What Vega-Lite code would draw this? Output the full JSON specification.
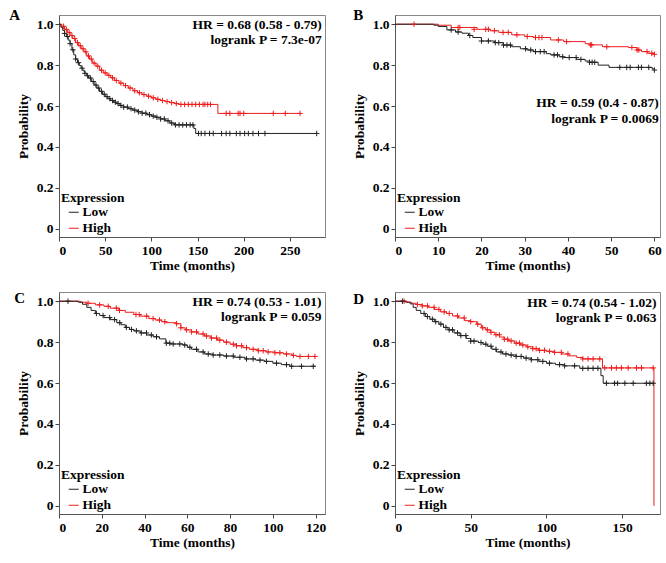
{
"$schema": "https://vega.github.io/schema/vega-lite/v6.json",
"padding": {"left": 8, "top": 7, "right": 4, "bottom": 4},
"columns": 2,
"spacing": {"row": 17, "column": 24},
"resolve": {"scale": {"color": "independent"}, "legend": {"color": "independent"}},
"config": {
  "font": "Liberation Serif",
  "view": {"stroke": "#888", "strokeWidth": 1},
  "axis": {"labelFont": "Liberation Serif", "labelFontSize": 13.5, "labelFontWeight": "bold", "labelColor": "#000", "titleFont": "Liberation Serif", "titleFontSize": 13.5, "titleFontWeight": "bold", "titleColor": "#000", "grid": false, "domain": true, "domainColor": "#555", "tickColor": "#444", "tickSize": 4, "labelPadding": 2},
  "axisX": {"titlePadding": 2},
  "axisY": {"titlePadding": 6},
  "legend": {"orient": "bottom-left", "offset": 2, "titleFont": "Liberation Serif", "titleFontSize": 13.5, "titleFontWeight": "bold", "titleColor": "#000", "labelFont": "Liberation Serif", "labelFontSize": 13.5, "labelFontWeight": "bold", "labelColor": "#000", "symbolType": "stroke", "symbolStrokeWidth": 1, "symbolSize": 100, "labelOffset": 2, "titlePadding": 1, "rowPadding": 1, "symbolOffset": 6},
  "title": {"font": "Liberation Serif", "fontSize": 15, "fontWeight": "bold", "color": "#000", "anchor": "start", "frame": "bounds", "baseline": "alphabetic"}
},
"datasets": {
"A_curve": [
{"t":0,"p":1,"g":"High"},{"t":3,"p":0.99,"g":"High"},{"t":6,"p":0.975,"g":"High"},{"t":9,"p":0.96,"g":"High"},{"t":12,"p":0.945,"g":"High"},{"t":15,"p":0.93,"g":"High"},{"t":18,"p":0.91,"g":"High"},{"t":21,"p":0.895,"g":"High"},{"t":24,"p":0.88,"g":"High"},{"t":27,"p":0.865,"g":"High"},{"t":30,"p":0.845,"g":"High"},{"t":33,"p":0.83,"g":"High"},{"t":36,"p":0.81,"g":"High"},{"t":40,"p":0.795,"g":"High"},{"t":44,"p":0.775,"g":"High"},{"t":48,"p":0.762,"g":"High"},{"t":52,"p":0.75,"g":"High"},{"t":56,"p":0.738,"g":"High"},{"t":60,"p":0.725,"g":"High"},{"t":65,"p":0.712,"g":"High"},{"t":70,"p":0.70,"g":"High"},{"t":75,"p":0.688,"g":"High"},{"t":80,"p":0.675,"g":"High"},{"t":85,"p":0.665,"g":"High"},{"t":90,"p":0.656,"g":"High"},{"t":95,"p":0.648,"g":"High"},{"t":100,"p":0.64,"g":"High"},{"t":105,"p":0.633,"g":"High"},{"t":110,"p":0.627,"g":"High"},{"t":115,"p":0.622,"g":"High"},{"t":120,"p":0.617,"g":"High"},{"t":125,"p":0.612,"g":"High"},{"t":130,"p":0.608,"g":"High"},{"t":172,"p":0.564,"g":"High"},{"t":261,"p":0.564,"g":"High"},
{"t":0,"p":1,"g":"Low"},{"t":2,"p":0.985,"g":"Low"},{"t":4,"p":0.97,"g":"Low"},{"t":6,"p":0.955,"g":"Low"},{"t":8,"p":0.94,"g":"Low"},{"t":10,"p":0.922,"g":"Low"},{"t":12,"p":0.905,"g":"Low"},{"t":14,"p":0.875,"g":"Low"},{"t":16,"p":0.85,"g":"Low"},{"t":18,"p":0.83,"g":"Low"},{"t":20,"p":0.812,"g":"Low"},{"t":22,"p":0.798,"g":"Low"},{"t":24,"p":0.785,"g":"Low"},{"t":26,"p":0.772,"g":"Low"},{"t":28,"p":0.76,"g":"Low"},{"t":30,"p":0.748,"g":"Low"},{"t":32,"p":0.737,"g":"Low"},{"t":35,"p":0.72,"g":"Low"},{"t":38,"p":0.703,"g":"Low"},{"t":41,"p":0.688,"g":"Low"},{"t":44,"p":0.672,"g":"Low"},{"t":47,"p":0.658,"g":"Low"},{"t":50,"p":0.646,"g":"Low"},{"t":53,"p":0.636,"g":"Low"},{"t":56,"p":0.627,"g":"Low"},{"t":59,"p":0.619,"g":"Low"},{"t":62,"p":0.612,"g":"Low"},{"t":66,"p":0.603,"g":"Low"},{"t":70,"p":0.595,"g":"Low"},{"t":75,"p":0.587,"g":"Low"},{"t":80,"p":0.58,"g":"Low"},{"t":85,"p":0.572,"g":"Low"},{"t":90,"p":0.565,"g":"Low"},{"t":95,"p":0.558,"g":"Low"},{"t":100,"p":0.551,"g":"Low"},{"t":105,"p":0.545,"g":"Low"},{"t":110,"p":0.537,"g":"Low"},{"t":115,"p":0.528,"g":"Low"},{"t":120,"p":0.517,"g":"Low"},{"t":125,"p":0.508,"g":"Low"},{"t":146,"p":0.49,"g":"Low"},{"t":148,"p":0.466,"g":"Low"},{"t":279,"p":0.466,"g":"Low"}
],
"A_cens": [
{"t":5,"p":0.99,"g":"High"},{"t":8,"p":0.975,"g":"High"},{"t":11,"p":0.96,"g":"High"},{"t":14,"p":0.945,"g":"High"},{"t":17,"p":0.93,"g":"High"},{"t":20,"p":0.91,"g":"High"},{"t":23,"p":0.895,"g":"High"},{"t":26,"p":0.88,"g":"High"},{"t":29,"p":0.865,"g":"High"},{"t":32,"p":0.845,"g":"High"},{"t":35,"p":0.83,"g":"High"},{"t":38,"p":0.81,"g":"High"},{"t":42,"p":0.795,"g":"High"},{"t":46,"p":0.775,"g":"High"},{"t":50,"p":0.762,"g":"High"},{"t":54,"p":0.75,"g":"High"},{"t":58,"p":0.738,"g":"High"},{"t":62,"p":0.725,"g":"High"},{"t":67,"p":0.712,"g":"High"},{"t":72,"p":0.70,"g":"High"},{"t":77,"p":0.688,"g":"High"},{"t":82,"p":0.675,"g":"High"},{"t":87,"p":0.665,"g":"High"},{"t":92,"p":0.656,"g":"High"},{"t":97,"p":0.648,"g":"High"},{"t":102,"p":0.64,"g":"High"},{"t":107,"p":0.633,"g":"High"},{"t":112,"p":0.627,"g":"High"},{"t":117,"p":0.622,"g":"High"},{"t":122,"p":0.617,"g":"High"},{"t":127,"p":0.612,"g":"High"},{"t":132,"p":0.608,"g":"High"},{"t":136,"p":0.608,"g":"High"},{"t":140,"p":0.608,"g":"High"},{"t":144,"p":0.608,"g":"High"},{"t":148,"p":0.608,"g":"High"},{"t":152,"p":0.608,"g":"High"},{"t":156,"p":0.608,"g":"High"},{"t":158,"p":0.608,"g":"High"},{"t":161,"p":0.608,"g":"High"},{"t":164,"p":0.608,"g":"High"},{"t":181,"p":0.564,"g":"High"},{"t":185,"p":0.564,"g":"High"},{"t":194,"p":0.564,"g":"High"},{"t":196,"p":0.564,"g":"High"},{"t":200,"p":0.564,"g":"High"},{"t":232,"p":0.564,"g":"High"},{"t":245,"p":0.564,"g":"High"},{"t":261,"p":0.564,"g":"High"},
{"t":6,"p":0.955,"g":"Low"},{"t":9,"p":0.94,"g":"Low"},{"t":12,"p":0.905,"g":"Low"},{"t":15,"p":0.875,"g":"Low"},{"t":18,"p":0.83,"g":"Low"},{"t":21,"p":0.812,"g":"Low"},{"t":25,"p":0.785,"g":"Low"},{"t":28,"p":0.76,"g":"Low"},{"t":31,"p":0.748,"g":"Low"},{"t":34,"p":0.737,"g":"Low"},{"t":37,"p":0.72,"g":"Low"},{"t":40,"p":0.703,"g":"Low"},{"t":43,"p":0.688,"g":"Low"},{"t":46,"p":0.672,"g":"Low"},{"t":49,"p":0.658,"g":"Low"},{"t":52,"p":0.646,"g":"Low"},{"t":55,"p":0.636,"g":"Low"},{"t":58,"p":0.627,"g":"Low"},{"t":61,"p":0.619,"g":"Low"},{"t":64,"p":0.612,"g":"Low"},{"t":67,"p":0.603,"g":"Low"},{"t":70,"p":0.595,"g":"Low"},{"t":74,"p":0.595,"g":"Low"},{"t":78,"p":0.587,"g":"Low"},{"t":82,"p":0.58,"g":"Low"},{"t":86,"p":0.572,"g":"Low"},{"t":90,"p":0.565,"g":"Low"},{"t":94,"p":0.565,"g":"Low"},{"t":98,"p":0.558,"g":"Low"},{"t":102,"p":0.551,"g":"Low"},{"t":106,"p":0.545,"g":"Low"},{"t":110,"p":0.537,"g":"Low"},{"t":114,"p":0.537,"g":"Low"},{"t":118,"p":0.528,"g":"Low"},{"t":122,"p":0.517,"g":"Low"},{"t":126,"p":0.508,"g":"Low"},{"t":130,"p":0.508,"g":"Low"},{"t":134,"p":0.508,"g":"Low"},{"t":138,"p":0.508,"g":"Low"},{"t":142,"p":0.508,"g":"Low"},{"t":145,"p":0.508,"g":"Low"},{"t":151,"p":0.466,"g":"Low"},{"t":154,"p":0.466,"g":"Low"},{"t":158,"p":0.466,"g":"Low"},{"t":163,"p":0.466,"g":"Low"},{"t":167,"p":0.466,"g":"Low"},{"t":176,"p":0.466,"g":"Low"},{"t":181,"p":0.466,"g":"Low"},{"t":185,"p":0.466,"g":"Low"},{"t":192,"p":0.466,"g":"Low"},{"t":196,"p":0.466,"g":"Low"},{"t":201,"p":0.466,"g":"Low"},{"t":205,"p":0.466,"g":"Low"},{"t":210,"p":0.466,"g":"Low"},{"t":216,"p":0.466,"g":"Low"},{"t":223,"p":0.466,"g":"Low"},{"t":279,"p":0.466,"g":"Low"}
],
"B_curve": [
{"t":0,"p":1,"g":"High"},{"t":10,"p":0.995,"g":"High"},{"t":13,"p":0.984,"g":"High"},{"t":19,"p":0.975,"g":"High"},{"t":22,"p":0.968,"g":"High"},{"t":24,"p":0.96,"g":"High"},{"t":27,"p":0.948,"g":"High"},{"t":30,"p":0.94,"g":"High"},{"t":32,"p":0.935,"g":"High"},{"t":36,"p":0.923,"g":"High"},{"t":39,"p":0.915,"g":"High"},{"t":44,"p":0.905,"g":"High"},{"t":45,"p":0.899,"g":"High"},{"t":48,"p":0.89,"g":"High"},{"t":54,"p":0.886,"g":"High"},{"t":56,"p":0.874,"g":"High"},{"t":57,"p":0.866,"g":"High"},{"t":58.5,"p":0.858,"g":"High"},{"t":60,"p":0.853,"g":"High"},
{"t":0,"p":1,"g":"Low"},{"t":9,"p":0.995,"g":"Low"},{"t":10,"p":0.989,"g":"Low"},{"t":12,"p":0.972,"g":"Low"},{"t":14,"p":0.962,"g":"Low"},{"t":15.5,"p":0.956,"g":"Low"},{"t":17,"p":0.945,"g":"Low"},{"t":18,"p":0.935,"g":"Low"},{"t":20,"p":0.918,"g":"Low"},{"t":23,"p":0.91,"g":"Low"},{"t":25,"p":0.898,"g":"Low"},{"t":27,"p":0.89,"g":"Low"},{"t":29,"p":0.88,"g":"Low"},{"t":30.5,"p":0.874,"g":"Low"},{"t":32,"p":0.866,"g":"Low"},{"t":35,"p":0.856,"g":"Low"},{"t":36,"p":0.85,"g":"Low"},{"t":38,"p":0.841,"g":"Low"},{"t":39,"p":0.837,"g":"Low"},{"t":42,"p":0.828,"g":"Low"},{"t":44,"p":0.82,"g":"Low"},{"t":45,"p":0.814,"g":"Low"},{"t":47,"p":0.80,"g":"Low"},{"t":49.5,"p":0.789,"g":"Low"},{"t":59.5,"p":0.782,"g":"Low"},{"t":60,"p":0.776,"g":"Low"}
],
"B_cens": [
{"t":4.4,"p":1,"g":"High"},{"t":14.6,"p":0.984,"g":"High"},{"t":15,"p":0.984,"g":"High"},{"t":18.3,"p":0.975,"g":"High"},{"t":21,"p":0.975,"g":"High"},{"t":21.6,"p":0.975,"g":"High"},{"t":23,"p":0.968,"g":"High"},{"t":25,"p":0.96,"g":"High"},{"t":26.2,"p":0.96,"g":"High"},{"t":28.2,"p":0.948,"g":"High"},{"t":30.6,"p":0.94,"g":"High"},{"t":32.5,"p":0.935,"g":"High"},{"t":33.3,"p":0.935,"g":"High"},{"t":34,"p":0.935,"g":"High"},{"t":37.8,"p":0.923,"g":"High"},{"t":39.7,"p":0.915,"g":"High"},{"t":45.2,"p":0.899,"g":"High"},{"t":45.5,"p":0.899,"g":"High"},{"t":49,"p":0.89,"g":"High"},{"t":54.8,"p":0.886,"g":"High"},{"t":56,"p":0.874,"g":"High"},{"t":56.4,"p":0.874,"g":"High"},{"t":58.3,"p":0.866,"g":"High"},{"t":59.4,"p":0.858,"g":"High"},{"t":60,"p":0.853,"g":"High"},
{"t":13,"p":0.972,"g":"Low"},{"t":14.6,"p":0.962,"g":"Low"},{"t":17.3,"p":0.945,"g":"Low"},{"t":20,"p":0.918,"g":"Low"},{"t":21.6,"p":0.918,"g":"Low"},{"t":23.2,"p":0.91,"g":"Low"},{"t":24,"p":0.91,"g":"Low"},{"t":25.1,"p":0.898,"g":"Low"},{"t":25.9,"p":0.898,"g":"Low"},{"t":26.7,"p":0.898,"g":"Low"},{"t":30.2,"p":0.88,"g":"Low"},{"t":31.4,"p":0.874,"g":"Low"},{"t":32.5,"p":0.866,"g":"Low"},{"t":33.6,"p":0.866,"g":"Low"},{"t":34.5,"p":0.866,"g":"Low"},{"t":36.8,"p":0.85,"g":"Low"},{"t":37.6,"p":0.85,"g":"Low"},{"t":38.8,"p":0.841,"g":"Low"},{"t":40.3,"p":0.837,"g":"Low"},{"t":41.9,"p":0.837,"g":"Low"},{"t":43,"p":0.828,"g":"Low"},{"t":45,"p":0.814,"g":"Low"},{"t":45.6,"p":0.814,"g":"Low"},{"t":46.2,"p":0.814,"g":"Low"},{"t":52,"p":0.789,"g":"Low"},{"t":53.6,"p":0.789,"g":"Low"},{"t":54.4,"p":0.789,"g":"Low"},{"t":56.3,"p":0.789,"g":"Low"},{"t":57,"p":0.789,"g":"Low"},{"t":58.7,"p":0.789,"g":"Low"},{"t":60,"p":0.776,"g":"Low"}
],
"C_curve": [
{"t":0,"p":1,"g":"High"},{"t":10,"p":0.995,"g":"High"},{"t":13,"p":0.99,"g":"High"},{"t":17,"p":0.982,"g":"High"},{"t":21,"p":0.975,"g":"High"},{"t":24,"p":0.966,"g":"High"},{"t":28,"p":0.955,"g":"High"},{"t":31,"p":0.946,"g":"High"},{"t":35,"p":0.935,"g":"High"},{"t":38,"p":0.927,"g":"High"},{"t":42,"p":0.915,"g":"High"},{"t":45,"p":0.908,"g":"High"},{"t":48,"p":0.9,"g":"High"},{"t":50,"p":0.895,"g":"High"},{"t":55,"p":0.89,"g":"High"},{"t":57,"p":0.87,"g":"High"},{"t":59,"p":0.86,"g":"High"},{"t":62,"p":0.85,"g":"High"},{"t":65,"p":0.84,"g":"High"},{"t":68,"p":0.83,"g":"High"},{"t":71,"p":0.82,"g":"High"},{"t":74,"p":0.81,"g":"High"},{"t":77,"p":0.80,"g":"High"},{"t":80,"p":0.79,"g":"High"},{"t":83,"p":0.782,"g":"High"},{"t":86,"p":0.773,"g":"High"},{"t":89,"p":0.765,"g":"High"},{"t":93,"p":0.758,"g":"High"},{"t":97,"p":0.752,"g":"High"},{"t":101,"p":0.748,"g":"High"},{"t":105,"p":0.742,"g":"High"},{"t":109,"p":0.735,"g":"High"},{"t":111,"p":0.73,"g":"High"},{"t":120,"p":0.73,"g":"High"},
{"t":0,"p":1,"g":"Low"},{"t":9,"p":0.995,"g":"Low"},{"t":11,"p":0.985,"g":"Low"},{"t":13,"p":0.97,"g":"Low"},{"t":15,"p":0.955,"g":"Low"},{"t":17,"p":0.94,"g":"Low"},{"t":19,"p":0.93,"g":"Low"},{"t":21,"p":0.92,"g":"Low"},{"t":24,"p":0.91,"g":"Low"},{"t":27,"p":0.895,"g":"Low"},{"t":29,"p":0.885,"g":"Low"},{"t":31,"p":0.872,"g":"Low"},{"t":33,"p":0.862,"g":"Low"},{"t":35,"p":0.855,"g":"Low"},{"t":38,"p":0.845,"g":"Low"},{"t":41,"p":0.835,"g":"Low"},{"t":44,"p":0.826,"g":"Low"},{"t":47,"p":0.816,"g":"Low"},{"t":50,"p":0.795,"g":"Low"},{"t":52,"p":0.791,"g":"Low"},{"t":58,"p":0.786,"g":"Low"},{"t":60,"p":0.775,"g":"Low"},{"t":62,"p":0.765,"g":"Low"},{"t":65,"p":0.752,"g":"Low"},{"t":68,"p":0.742,"g":"Low"},{"t":72,"p":0.737,"g":"Low"},{"t":77,"p":0.732,"g":"Low"},{"t":82,"p":0.726,"g":"Low"},{"t":87,"p":0.718,"g":"Low"},{"t":92,"p":0.712,"g":"Low"},{"t":96,"p":0.706,"g":"Low"},{"t":100,"p":0.697,"g":"Low"},{"t":104,"p":0.69,"g":"Low"},{"t":108,"p":0.682,"g":"Low"},{"t":120,"p":0.682,"g":"Low"}
],
"C_cens": [
{"t":13.6,"p":0.99,"g":"High"},{"t":19,"p":0.982,"g":"High"},{"t":23,"p":0.975,"g":"High"},{"t":26.8,"p":0.966,"g":"High"},{"t":28.3,"p":0.955,"g":"High"},{"t":36,"p":0.935,"g":"High"},{"t":37.5,"p":0.935,"g":"High"},{"t":41,"p":0.927,"g":"High"},{"t":44,"p":0.915,"g":"High"},{"t":47,"p":0.908,"g":"High"},{"t":49.5,"p":0.9,"g":"High"},{"t":55,"p":0.89,"g":"High"},{"t":57,"p":0.87,"g":"High"},{"t":59.6,"p":0.86,"g":"High"},{"t":62,"p":0.85,"g":"High"},{"t":64.3,"p":0.85,"g":"High"},{"t":67.4,"p":0.84,"g":"High"},{"t":69,"p":0.83,"g":"High"},{"t":71.3,"p":0.82,"g":"High"},{"t":73.7,"p":0.82,"g":"High"},{"t":75.2,"p":0.81,"g":"High"},{"t":78.3,"p":0.80,"g":"High"},{"t":81.5,"p":0.79,"g":"High"},{"t":83,"p":0.782,"g":"High"},{"t":85.4,"p":0.782,"g":"High"},{"t":87.7,"p":0.773,"g":"High"},{"t":90.8,"p":0.765,"g":"High"},{"t":93.2,"p":0.758,"g":"High"},{"t":95.5,"p":0.758,"g":"High"},{"t":97.8,"p":0.752,"g":"High"},{"t":101,"p":0.748,"g":"High"},{"t":103.3,"p":0.748,"g":"High"},{"t":106.4,"p":0.742,"g":"High"},{"t":109.6,"p":0.735,"g":"High"},{"t":112.7,"p":0.73,"g":"High"},{"t":116.6,"p":0.73,"g":"High"},{"t":119.7,"p":0.73,"g":"High"},
{"t":4.2,"p":1,"g":"Low"},{"t":17.5,"p":0.94,"g":"Low"},{"t":20.6,"p":0.93,"g":"Low"},{"t":23.7,"p":0.92,"g":"Low"},{"t":26,"p":0.91,"g":"Low"},{"t":28.4,"p":0.895,"g":"Low"},{"t":31.5,"p":0.872,"g":"Low"},{"t":33.9,"p":0.862,"g":"Low"},{"t":36.2,"p":0.855,"g":"Low"},{"t":38.5,"p":0.845,"g":"Low"},{"t":40.9,"p":0.845,"g":"Low"},{"t":43.2,"p":0.835,"g":"Low"},{"t":45.6,"p":0.826,"g":"Low"},{"t":50.2,"p":0.795,"g":"Low"},{"t":51.8,"p":0.795,"g":"Low"},{"t":53.4,"p":0.791,"g":"Low"},{"t":56.5,"p":0.791,"g":"Low"},{"t":58.8,"p":0.786,"g":"Low"},{"t":61.2,"p":0.775,"g":"Low"},{"t":64.3,"p":0.765,"g":"Low"},{"t":67.4,"p":0.752,"g":"Low"},{"t":69.8,"p":0.742,"g":"Low"},{"t":72.1,"p":0.737,"g":"Low"},{"t":75.2,"p":0.737,"g":"Low"},{"t":78.3,"p":0.732,"g":"Low"},{"t":81.5,"p":0.732,"g":"Low"},{"t":84.6,"p":0.726,"g":"Low"},{"t":87.7,"p":0.718,"g":"Low"},{"t":90.8,"p":0.718,"g":"Low"},{"t":94,"p":0.712,"g":"Low"},{"t":97,"p":0.706,"g":"Low"},{"t":101.7,"p":0.697,"g":"Low"},{"t":106.4,"p":0.69,"g":"Low"},{"t":108.8,"p":0.682,"g":"Low"},{"t":113.4,"p":0.682,"g":"Low"},{"t":118.9,"p":0.682,"g":"Low"}
],
"D_curve": [
{"t":0,"p":1,"g":"High"},{"t":8,"p":0.995,"g":"High"},{"t":11,"p":0.99,"g":"High"},{"t":14,"p":0.984,"g":"High"},{"t":18,"p":0.977,"g":"High"},{"t":22,"p":0.97,"g":"High"},{"t":26,"p":0.96,"g":"High"},{"t":30,"p":0.948,"g":"High"},{"t":34,"p":0.94,"g":"High"},{"t":38,"p":0.928,"g":"High"},{"t":42,"p":0.918,"g":"High"},{"t":46,"p":0.905,"g":"High"},{"t":50,"p":0.9,"g":"High"},{"t":54,"p":0.888,"g":"High"},{"t":57,"p":0.87,"g":"High"},{"t":60,"p":0.86,"g":"High"},{"t":63,"p":0.848,"g":"High"},{"t":66,"p":0.836,"g":"High"},{"t":69,"p":0.825,"g":"High"},{"t":72,"p":0.814,"g":"High"},{"t":75,"p":0.806,"g":"High"},{"t":79,"p":0.795,"g":"High"},{"t":83,"p":0.786,"g":"High"},{"t":87,"p":0.777,"g":"High"},{"t":91,"p":0.768,"g":"High"},{"t":95,"p":0.76,"g":"High"},{"t":100,"p":0.755,"g":"High"},{"t":105,"p":0.75,"g":"High"},{"t":110,"p":0.742,"g":"High"},{"t":115,"p":0.733,"g":"High"},{"t":120,"p":0.725,"g":"High"},{"t":124,"p":0.718,"g":"High"},{"t":137,"p":0.674,"g":"High"},{"t":171,"p":0,"g":"High"},
{"t":0,"p":1,"g":"Low"},{"t":7,"p":0.995,"g":"Low"},{"t":10,"p":0.987,"g":"Low"},{"t":12,"p":0.97,"g":"Low"},{"t":14,"p":0.955,"g":"Low"},{"t":17,"p":0.94,"g":"Low"},{"t":20,"p":0.925,"g":"Low"},{"t":23,"p":0.912,"g":"Low"},{"t":26,"p":0.9,"g":"Low"},{"t":29,"p":0.888,"g":"Low"},{"t":32,"p":0.872,"g":"Low"},{"t":35,"p":0.86,"g":"Low"},{"t":39,"p":0.845,"g":"Low"},{"t":43,"p":0.832,"g":"Low"},{"t":47,"p":0.818,"g":"Low"},{"t":50,"p":0.805,"g":"Low"},{"t":55,"p":0.798,"g":"Low"},{"t":58,"p":0.79,"g":"Low"},{"t":61,"p":0.78,"g":"Low"},{"t":64,"p":0.765,"g":"Low"},{"t":67,"p":0.752,"g":"Low"},{"t":71,"p":0.742,"g":"Low"},{"t":75,"p":0.737,"g":"Low"},{"t":80,"p":0.73,"g":"Low"},{"t":85,"p":0.722,"g":"Low"},{"t":90,"p":0.714,"g":"Low"},{"t":95,"p":0.706,"g":"Low"},{"t":100,"p":0.697,"g":"Low"},{"t":106,"p":0.69,"g":"Low"},{"t":112,"p":0.684,"g":"Low"},{"t":122,"p":0.672,"g":"Low"},{"t":136,"p":0.636,"g":"Low"},{"t":137.5,"p":0.599,"g":"Low"},{"t":171,"p":0.599,"g":"Low"}
],
"D_cens": [
{"t":6,"p":1,"g":"High"},{"t":14.8,"p":0.984,"g":"High"},{"t":18,"p":0.977,"g":"High"},{"t":21.4,"p":0.977,"g":"High"},{"t":25.8,"p":0.97,"g":"High"},{"t":29,"p":0.96,"g":"High"},{"t":32.5,"p":0.948,"g":"High"},{"t":35.8,"p":0.94,"g":"High"},{"t":41.3,"p":0.928,"g":"High"},{"t":45.7,"p":0.918,"g":"High"},{"t":50,"p":0.9,"g":"High"},{"t":54.6,"p":0.888,"g":"High"},{"t":57.9,"p":0.87,"g":"High"},{"t":61,"p":0.86,"g":"High"},{"t":63.4,"p":0.848,"g":"High"},{"t":66.7,"p":0.836,"g":"High"},{"t":68.9,"p":0.836,"g":"High"},{"t":72.2,"p":0.814,"g":"High"},{"t":74.4,"p":0.814,"g":"High"},{"t":76.7,"p":0.806,"g":"High"},{"t":80,"p":0.795,"g":"High"},{"t":82.2,"p":0.795,"g":"High"},{"t":84.4,"p":0.786,"g":"High"},{"t":87.7,"p":0.777,"g":"High"},{"t":91,"p":0.768,"g":"High"},{"t":93.2,"p":0.768,"g":"High"},{"t":95.4,"p":0.76,"g":"High"},{"t":98.7,"p":0.76,"g":"High"},{"t":102,"p":0.755,"g":"High"},{"t":105.4,"p":0.75,"g":"High"},{"t":109.8,"p":0.75,"g":"High"},{"t":114.2,"p":0.742,"g":"High"},{"t":124,"p":0.718,"g":"High"},{"t":127.5,"p":0.718,"g":"High"},{"t":130.8,"p":0.718,"g":"High"},{"t":135.2,"p":0.718,"g":"High"},{"t":138.5,"p":0.674,"g":"High"},{"t":143,"p":0.674,"g":"High"},{"t":146.2,"p":0.674,"g":"High"},{"t":149.5,"p":0.674,"g":"High"},{"t":154,"p":0.674,"g":"High"},{"t":159.5,"p":0.674,"g":"High"},{"t":162.8,"p":0.674,"g":"High"},{"t":170.5,"p":0.674,"g":"High"},
{"t":4.9,"p":1,"g":"Low"},{"t":19.2,"p":0.94,"g":"Low"},{"t":21.4,"p":0.925,"g":"Low"},{"t":24.7,"p":0.912,"g":"Low"},{"t":26.9,"p":0.9,"g":"Low"},{"t":30.3,"p":0.888,"g":"Low"},{"t":33.6,"p":0.872,"g":"Low"},{"t":35.8,"p":0.86,"g":"Low"},{"t":38,"p":0.86,"g":"Low"},{"t":41.3,"p":0.845,"g":"Low"},{"t":43.5,"p":0.832,"g":"Low"},{"t":46.8,"p":0.832,"g":"Low"},{"t":50,"p":0.805,"g":"Low"},{"t":52.2,"p":0.805,"g":"Low"},{"t":56.8,"p":0.798,"g":"Low"},{"t":60,"p":0.79,"g":"Low"},{"t":63.4,"p":0.78,"g":"Low"},{"t":66.7,"p":0.765,"g":"Low"},{"t":70,"p":0.752,"g":"Low"},{"t":73.3,"p":0.742,"g":"Low"},{"t":76.7,"p":0.737,"g":"Low"},{"t":80,"p":0.73,"g":"Low"},{"t":83.3,"p":0.73,"g":"Low"},{"t":86.6,"p":0.722,"g":"Low"},{"t":90,"p":0.714,"g":"Low"},{"t":94.3,"p":0.714,"g":"Low"},{"t":97.6,"p":0.706,"g":"Low"},{"t":102,"p":0.697,"g":"Low"},{"t":108.7,"p":0.69,"g":"Low"},{"t":112,"p":0.684,"g":"Low"},{"t":118.6,"p":0.684,"g":"Low"},{"t":124,"p":0.672,"g":"Low"},{"t":127.5,"p":0.672,"g":"Low"},{"t":130.8,"p":0.672,"g":"Low"},{"t":134,"p":0.672,"g":"Low"},{"t":139.6,"p":0.599,"g":"Low"},{"t":145,"p":0.599,"g":"Low"},{"t":147,"p":0.599,"g":"Low"},{"t":151.8,"p":0.599,"g":"Low"},{"t":157.3,"p":0.599,"g":"Low"},{"t":166,"p":0.599,"g":"Low"},{"t":168.3,"p":0.599,"g":"Low"},{"t":170.5,"p":0.599,"g":"Low"}
]
},
"concat": [
{
 "width": 266, "height": 222,
 "title": {"text": "A", "dx": -7, "offset": -8},
 "layer": [
  {"data": {"name": "A_curve"}, "mark": {"type": "line", "interpolate": "step-after", "strokeWidth": 1},
   "encoding": {
    "x": {"field": "t", "type": "quantitative", "scale": {"domain": [0, 288], "nice": false, "zero": false}, "axis": {"values": [0, 50, 100, 150, 200, 250], "title": "Time (months)"}},
    "y": {"field": "p", "type": "quantitative", "scale": {"domain": [-0.04, 1.045], "nice": false, "zero": false}, "axis": {"values": [0, 0.2, 0.4, 0.6, 0.8, 1], "labelExpr": "datum.value == 0 ? '0' : format(datum.value, '.1f')", "title": "Probability"}},
    "color": {"field": "g", "type": "nominal", "scale": {"domain": ["Low", "High"], "range": ["#222222", "#ee1c1c"]}, "legend": {"title": "Expression", "symbolType": "stroke"}}}},
  {"data": {"name": "A_cens"}, "mark": {"type": "point", "shape": "M-1,0L1,0M0,-1L0,1", "size": 30, "filled": false, "strokeWidth": 1, "opacity": 1},
   "encoding": {"x": {"field": "t", "type": "quantitative"}, "y": {"field": "p", "type": "quantitative"}, "color": {"field": "g", "type": "nominal"}}},
  {"data": {"values": [{"label": "HR = 0.68 (0.58 - 0.79)"}]}, "mark": {"type": "text", "align": "right", "fontSize": 13.5, "fontWeight": "bold", "color": "#000"},
   "encoding": {"x": {"datum": 284.5}, "y": {"datum": 0.997}, "text": {"field": "label"}}},
  {"data": {"values": [{"label": "logrank P = 7.3e-07"}]}, "mark": {"type": "text", "align": "right", "fontSize": 13.5, "fontWeight": "bold", "color": "#000"},
   "encoding": {"x": {"datum": 284.5}, "y": {"datum": 0.922}, "text": {"field": "label"}}}
 ]
},
{
 "width": 265, "height": 222,
 "title": {"text": "B", "dx": 1, "offset": -8},
 "layer": [
  {"data": {"name": "B_curve"}, "mark": {"type": "line", "interpolate": "step-after", "strokeWidth": 1},
   "encoding": {
    "x": {"field": "t", "type": "quantitative", "scale": {"domain": [0, 61.3], "nice": false, "zero": false}, "axis": {"values": [0, 10, 20, 30, 40, 50, 60], "title": "Time (months)"}},
    "y": {"field": "p", "type": "quantitative", "scale": {"domain": [-0.04, 1.045], "nice": false, "zero": false}, "axis": {"values": [0, 0.2, 0.4, 0.6, 0.8, 1], "labelExpr": "datum.value == 0 ? '0' : format(datum.value, '.1f')", "title": "Probability"}},
    "color": {"field": "g", "type": "nominal", "scale": {"domain": ["Low", "High"], "range": ["#222222", "#ee1c1c"]}, "legend": {"title": "Expression", "symbolType": "stroke"}}}},
  {"data": {"name": "B_cens"}, "mark": {"type": "point", "shape": "M-1,0L1,0M0,-1L0,1", "size": 30, "filled": false, "strokeWidth": 1, "opacity": 1},
   "encoding": {"x": {"field": "t", "type": "quantitative"}, "y": {"field": "p", "type": "quantitative"}, "color": {"field": "g", "type": "nominal"}}},
  {"data": {"values": [{"label": "HR = 0.59 (0.4 - 0.87)"}]}, "mark": {"type": "text", "align": "right", "fontSize": 13.5, "fontWeight": "bold", "color": "#000"},
   "encoding": {"x": {"datum": 61}, "y": {"datum": 0.613}, "text": {"field": "label"}}},
  {"data": {"values": [{"label": "logrank P = 0.0069"}]}, "mark": {"type": "text", "align": "right", "fontSize": 13.5, "fontWeight": "bold", "color": "#000"},
   "encoding": {"x": {"datum": 61}, "y": {"datum": 0.539}, "text": {"field": "label"}}}
 ]
},
{
 "width": 266, "height": 222,
 "title": {"text": "C", "dx": -2, "offset": -14},
 "layer": [
  {"data": {"name": "C_curve"}, "mark": {"type": "line", "interpolate": "step-after", "strokeWidth": 1},
   "encoding": {
    "x": {"field": "t", "type": "quantitative", "scale": {"domain": [0, 124.4], "nice": false, "zero": false}, "axis": {"values": [0, 20, 40, 60, 80, 100, 120], "title": "Time (months)"}},
    "y": {"field": "p", "type": "quantitative", "scale": {"domain": [-0.04, 1.045], "nice": false, "zero": false}, "axis": {"values": [0, 0.2, 0.4, 0.6, 0.8, 1], "labelExpr": "datum.value == 0 ? '0' : format(datum.value, '.1f')", "title": "Probability"}},
    "color": {"field": "g", "type": "nominal", "scale": {"domain": ["Low", "High"], "range": ["#222222", "#ee1c1c"]}, "legend": {"title": "Expression", "symbolType": "stroke"}}}},
  {"data": {"name": "C_cens"}, "mark": {"type": "point", "shape": "M-1,0L1,0M0,-1L0,1", "size": 30, "filled": false, "strokeWidth": 1, "opacity": 1},
   "encoding": {"x": {"field": "t", "type": "quantitative"}, "y": {"field": "p", "type": "quantitative"}, "color": {"field": "g", "type": "nominal"}}},
  {"data": {"values": [{"label": "HR = 0.74 (0.53 - 1.01)"}]}, "mark": {"type": "text", "align": "right", "fontSize": 13.5, "fontWeight": "bold", "color": "#000"},
   "encoding": {"x": {"datum": 122.8}, "y": {"datum": 0.996}, "text": {"field": "label"}}},
  {"data": {"values": [{"label": "logrank P = 0.059"}]}, "mark": {"type": "text", "align": "right", "fontSize": 13.5, "fontWeight": "bold", "color": "#000"},
   "encoding": {"x": {"datum": 122.8}, "y": {"datum": 0.922}, "text": {"field": "label"}}}
 ]
},
{
 "width": 265, "height": 222,
 "title": {"text": "D", "dx": 1, "offset": -15},
 "layer": [
  {"data": {"name": "D_curve"}, "mark": {"type": "line", "interpolate": "step-after", "strokeWidth": 1},
   "encoding": {
    "x": {"field": "t", "type": "quantitative", "scale": {"domain": [0, 175], "nice": false, "zero": false}, "axis": {"values": [0, 50, 100, 150], "title": "Time (months)"}},
    "y": {"field": "p", "type": "quantitative", "scale": {"domain": [-0.04, 1.045], "nice": false, "zero": false}, "axis": {"values": [0, 0.2, 0.4, 0.6, 0.8, 1], "labelExpr": "datum.value == 0 ? '0' : format(datum.value, '.1f')", "title": "Probability"}},
    "color": {"field": "g", "type": "nominal", "scale": {"domain": ["Low", "High"], "range": ["#222222", "#ee1c1c"]}, "legend": {"title": "Expression", "symbolType": "stroke"}}}},
  {"data": {"name": "D_cens"}, "mark": {"type": "point", "shape": "M-1,0L1,0M0,-1L0,1", "size": 30, "filled": false, "strokeWidth": 1, "opacity": 1},
   "encoding": {"x": {"field": "t", "type": "quantitative"}, "y": {"field": "p", "type": "quantitative"}, "color": {"field": "g", "type": "nominal"}}},
  {"data": {"values": [{"label": "HR = 0.74 (0.54 - 1.02)"}]}, "mark": {"type": "text", "align": "right", "fontSize": 13.5, "fontWeight": "bold", "color": "#000"},
   "encoding": {"x": {"datum": 172.7}, "y": {"datum": 0.99}, "text": {"field": "label"}}},
  {"data": {"values": [{"label": "logrank P = 0.063"}]}, "mark": {"type": "text", "align": "right", "fontSize": 13.5, "fontWeight": "bold", "color": "#000"},
   "encoding": {"x": {"datum": 172.7}, "y": {"datum": 0.917}, "text": {"field": "label"}}}
 ]
}
]
}
